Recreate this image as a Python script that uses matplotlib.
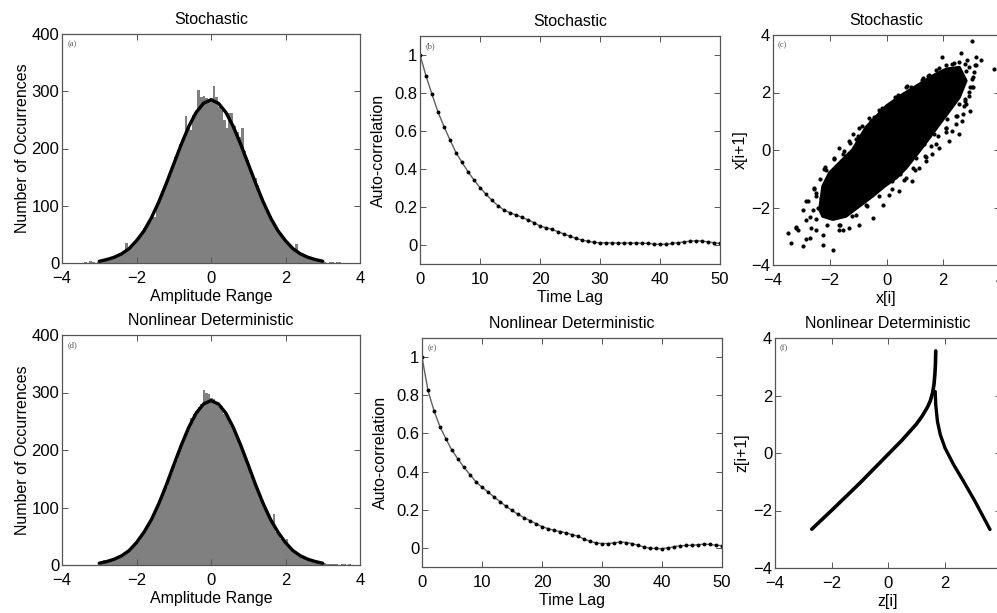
import matplotlib
matplotlib.use("Agg")
import matplotlib.pyplot as plt
import numpy as np

plt.rcParams['font.family'] = ['Liberation Sans', 'DejaVu Sans']

# ---------------- data ----------------
# (a) histogram, stochastic
hist_a_left = -3.40
hist_a_width = 0.069
hist_a_counts = [2, 0, 3, 1, 0, 2, 4, 3, 6, 5,
                 8, 10, 12, 14, 16, 20, 35, 27, 30, 36,
                 38, 47, 50, 61, 64, 76, 84, 80, 100, 110,
                 126, 136, 148, 155, 175, 185, 190, 208, 218, 256,
                 240, 232, 258, 264, 303, 290, 292, 288, 285, 288,
                 309, 290, 272, 268, 250, 235, 262, 262, 240, 228,
                 220, 235, 195, 180, 168, 152, 148, 136, 120, 108,
                 98, 92, 82, 72, 60, 58, 52, 44, 38, 34,
                 30, 26, 34, 18, 16, 14, 11, 9, 7, 5,
                 4, 3, 3, 2, 0, 1, 1, 0, 1, 1]
# (d) histogram, nonlinear deterministic
hist_d_left = -2.98
hist_d_width = 0.0673
hist_d_counts = [3, 8, 7, 6, 9, 8, 12, 12, 14, 18,
                 22, 26, 27, 33, 38, 42, 52, 55, 62, 72,
                 80, 86, 98, 105, 120, 130, 136, 152, 160, 175,
                 182, 198, 210, 216, 232, 236, 255, 262, 268, 275,
                 280, 305, 300, 298, 290, 288, 282, 275, 276, 262,
                 262, 250, 242, 238, 228, 210, 205, 190, 182, 172,
                 155, 148, 138, 126, 114, 100, 96, 86, 74, 89,
                 58, 56, 45, 40, 46, 30, 27, 22, 20, 17,
                 14, 12, 9, 8, 7, 5, 5, 4, 3, 3,
                 2, 2, 1, 2, 1, 0, 2, 1, 0, 2]
# fitted curves over the histograms
fit_x = [-3.0, -2.8, -2.6, -2.4, -2.2, -2.0, -1.8, -1.6, -1.4, -1.2, -1.0,
         -0.8, -0.6, -0.4, -0.2, 0.0, 0.2, 0.4, 0.6, 0.8, 1.0,
         1.2, 1.4, 1.6, 1.8, 2.0, 2.2, 2.4, 2.6, 2.8, 3.0]
fit_a_y = [3, 6, 10, 16, 25, 39, 56, 79, 107, 139, 173,
           207, 238, 263, 279, 285, 279, 263, 238, 207, 173,
           139, 107, 79, 56, 39, 25, 16, 10, 6, 3]
fit_d_y = [3, 6, 10, 16, 25, 39, 57, 79, 107, 139, 174,
           208, 239, 264, 280, 286, 280, 264, 239, 208, 174,
           139, 107, 79, 57, 39, 25, 16, 10, 6, 3]

# (b), (e) autocorrelation
lags = list(range(51))
acf_b = [1.0, 0.89, 0.793, 0.70, 0.623, 0.553, 0.486, 0.435, 0.386, 0.342, 0.302,
         0.267, 0.235, 0.207, 0.184, 0.170, 0.158, 0.146, 0.132, 0.118, 0.100,
         0.091, 0.082, 0.070, 0.058, 0.046, 0.035, 0.026, 0.019, 0.014, 0.012,
         0.011, 0.011, 0.010, 0.010, 0.010, 0.010, 0.010, 0.008, 0.005, 0.003,
         0.004, 0.008, 0.012, 0.016, 0.020, 0.022, 0.021, 0.016, 0.012, 0.008]
acf_e = [1.0, 0.825, 0.719, 0.635, 0.571, 0.511, 0.466, 0.422, 0.384, 0.346, 0.318,
         0.293, 0.267, 0.243, 0.218, 0.197, 0.176, 0.159, 0.143, 0.127, 0.112,
         0.101, 0.092, 0.086, 0.079, 0.070, 0.061, 0.047, 0.035, 0.026, 0.023,
         0.023, 0.026, 0.031, 0.028, 0.023, 0.014, 0.005, -0.002, -0.003, -0.004,
         0.000, 0.006, 0.011, 0.013, 0.014, 0.016, 0.020, 0.018, 0.014, 0.012]

# (c) return map, stochastic: dense core outline + scattered points
core_c_x = [-2.36, -2.25, -2.01, -1.66, -1.19, -0.72, 0.0, 0.59, 1.17, 1.64, 2.11,
            2.57, 2.81, 2.57, 2.22, 1.87, 1.52, 1.17, 0.70, 0.35, -0.05, -0.49,
            -0.96, -1.43, -1.89, -2.25]
core_c_y = [-2.07, -1.26, -0.79, -0.44, 0.02, 0.80, 1.54, 1.95, 2.30, 2.59, 2.82,
            2.88, 2.41, 1.83, 1.36, 0.90, 0.43, -0.03, -0.62, -0.97, -1.25, -1.61,
            -1.96, -2.31, -2.42, -2.31]
pts_c_x = [3.02, 3.78, 2.61, 3.16, 3.34, 1.96, 2.37, 2.90, 3.02, 2.78, 2.73, 2.49,
           2.08, 3.02, 1.50, 0.74, 0.39, -0.26, -0.61, -0.96, -1.31, -1.66, -1.84,
           -2.13, -2.54, -2.48, -2.83, -2.95, -3.18, -3.47, -3.36, -2.95, -2.25,
           -1.89, -2.83, -2.65, -1.54, -1.31, -0.96, -0.49, -0.14, 0.44, 0.91,
           1.15, 1.38, 1.85, 2.20, 2.55, 2.67, 2.96, 2.32, 1.61, 0.68, 0.09, -0.73,
           -1.08, -1.66, -2.25, -3.12, -2.71, -2.42, -2.30, -2.19, -2.01, -1.54,
           -1.19, -1.08, -0.49, 0.04, 0.21, 1.03, 1.26, 1.73, 2.08, 2.55, 2.84,
           3.13, 3.08, 2.90, 2.55, 2.14, 1.67, 1.32, 1.03, 0.56, 0.21, -0.37,
           -0.90, -1.31,
           -3.18, -2.83, -2.60, -2.77, -2.54, -2.19, -1.66, -2.71, -2.48,
           1.46, 0.70, 0.41, 0.12, -0.23, -0.53, 3.04, 2.81, 2.69, 2.11, 1.81,
           1.58, 1.34, 0.94, 0.47, 2.81, 3.04, 3.16, 2.34, 2.46, 2.92,
           -2.50, -2.35, -2.15, -1.85, -1.50, -1.30, -1.00, -0.85, -0.45, -0.15,
           0.30, 0.85, 1.30, 1.85, 2.30, 2.75, 2.95, 2.75, 2.45, 2.10, 1.75, 1.40,
           1.00, 0.60, 0.20, -0.25, -0.70, -1.20, -1.65, -2.10, -2.50]
pts_c_y = [3.80, 2.83, 3.38, 3.22, 3.12, 3.22, 3.01, 2.89, 2.19, 1.78, 1.54, 1.19,
           0.78, 2.48, 2.60, 2.21, 1.92, 1.39, 1.13, 0.78, 0.32, 0.08, -0.27,
           -0.68, -1.32, -1.50, -1.79, -2.08, -2.67, -2.90, -3.25, -3.33, -3.31,
           -3.49, -3.08, -2.73, -2.78, -2.70, -2.61, -2.35, -1.91, -1.44, -1.09,
           -0.62, -0.39, 0.08, 0.32, 0.55, 1.02, 1.37, 0.67, -0.15, -0.97, -1.56,
           -1.91, -2.26, -2.61, -2.96, -2.78, -2.32, -2.02, -1.67, -1.32, -0.97,
           -0.15, 0.55, 0.37, 0.90, 1.31, 1.54, 2.13, 2.42, 2.77, 2.95, 3.06,
           3.12, 2.95, 2.71, 2.01, 1.60, 1.08, 0.55, 0.20, -0.27, -0.62, -1.09,
           -1.44, -1.79, -2.02,
           -2.71, -2.42, -2.07, -1.78, -1.37, -0.67, -2.77, -3.06, -2.77,
           2.59, 2.18, 1.89, 1.60, 1.31, 1.01, 2.18, 1.60, 1.25, 0.61, 0.49,
           0.14, -0.21, -0.62, -0.85, 2.76, 2.53, 2.94, 2.76, 0.90, 1.89,
           -1.60, -1.00, -0.60, -0.30, -0.05, 0.25, 0.50, 0.85, 1.15, 1.45,
           1.85, 2.20, 2.50, 2.85, 3.00, 3.00, 2.20, 1.70, 1.20, 0.75, 0.20, -0.25,
           -0.70, -1.05, -1.35, -1.60, -1.95, -2.30, -2.60, -2.60, -2.40]

# (f) return map, nonlinear deterministic: two branches
left_f_x = [-2.70, -2.0, -1.0, 0.0, 0.5, 1.0, 1.2, 1.4, 1.5, 1.58, 1.63, 1.66, 1.68, 1.69]
left_f_y = [-2.65, -2.0, -1.05, -0.05, 0.45, 1.0, 1.27, 1.60, 1.82, 2.10, 2.40, 2.75, 3.10, 3.55]
right_f_x = [1.67, 1.69, 1.75, 1.85, 2.02, 2.32, 2.67, 3.08, 3.61]
right_f_y = [2.14, 1.68, 1.10, 0.64, 0.17, -0.40, -0.98, -1.68, -2.66]

titles = ["Stochastic", "Stochastic", "Stochastic",
          "Nonlinear Deterministic", "Nonlinear Deterministic", "Nonlinear Deterministic"]
panel_tags = ["(a)", "(b)", "(c)", "(d)", "(e)", "(f)"]
xlabels = ["Amplitude Range", "Time Lag", "x[i]", "Amplitude Range", "Time Lag", "z[i]"]
ylabels = ["Number of Occurrences", "Auto-correlation", "x[i+1]",
           "Number of Occurrences", "Auto-correlation", "z[i+1]"]

# ---------------- figure ----------------
W, H = 997, 613
fig = plt.figure(figsize=(W / 100, H / 100), dpi=100)


def px_axes(l, r, t, b):
    return fig.add_axes([l / W, (H - b) / H, (r - l) / W, (b - t) / H])


axes = [px_axes(62, 360, 34, 263), px_axes(420, 720, 36, 264), px_axes(773, 1000, 35, 265),
        px_axes(62, 360, 335, 565), px_axes(422, 722, 338, 567), px_axes(775, 1001, 338, 568)]
ylab_x = [-0.134, -0.139, -0.145, -0.134, -0.14, -0.147]

spine_col = '#555555'
for i, ax in enumerate(axes):
    for s in ax.spines.values():
        s.set_color(spine_col)
        s.set_linewidth(0.9)
    ax.tick_params(direction='in', top=True, right=True, length=4, width=0.7,
                   color=spine_col, labelsize=12)
    ax.tick_params(axis='x', pad=5.5)
    ax.tick_params(axis='y', pad=2)
    ax.set_title(titles[i], fontsize=11.5, pad=7)
    ax.set_xlabel(xlabels[i], fontsize=11.5, va='center')
    ax.xaxis.set_label_coords(0.5, -0.147)
    ax.set_ylabel(ylabels[i], fontsize=11.5, va='center')
    ax.yaxis.set_label_coords(ylab_x[i], 0.5)
    ax.text(0.02, 0.975, panel_tags[i], transform=ax.transAxes, ha='left', va='top',
            fontsize=6, family='Liberation Serif', color='#555555')

# histograms
for ax, left, width, counts, fy in [(axes[0], hist_a_left, hist_a_width, hist_a_counts, fit_a_y),
                                    (axes[3], hist_d_left, hist_d_width, hist_d_counts, fit_d_y)]:
    centers = left + width * (np.arange(len(counts)) + 0.5)
    ax.bar(centers, counts, width=width, color='#808080', edgecolor='none', linewidth=0)
    ax.plot(fit_x, fy, color='black', lw=2.4, solid_capstyle='round', solid_joinstyle='round')
    ax.set_xlim(-4, 4)
    ax.set_ylim(0, 400)
    ax.set_xticks([-4, -2, 0, 2, 4])
    ax.set_yticks([0, 100, 200, 300, 400])

# autocorrelations
for ax, acf in [(axes[1], acf_b), (axes[4], acf_e)]:
    ax.plot(lags, acf, color='#606060', lw=1.0, marker='o', ms=1.8,
            mfc='black', mec='black')
    ax.set_xlim(0, 50)
    ax.set_ylim(-0.1, 1.1)
    ax.set_xticks([0, 10, 20, 30, 40, 50])
    ax.set_yticks([0, 0.2, 0.4, 0.6, 0.8, 1.0])
    ax.set_yticklabels(['0', '0.2', '0.4', '0.6', '0.8', '1'])

# return map (c)
ax = axes[2]
ax.fill(core_c_x, core_c_y, color='black', lw=2.0, ec='black', joinstyle='round')
ax.plot(pts_c_x, pts_c_y, 'o', ms=3.0, color='black', mec='none')

# return map (f)
ax = axes[5]
ax.plot(left_f_x, left_f_y, color='black', lw=2.6, solid_capstyle='round', solid_joinstyle='round')
ax.plot(right_f_x, right_f_y, color='black', lw=2.4, solid_capstyle='round', solid_joinstyle='round')

for ax in (axes[2], axes[5]):
    ax.set_xlim(-4, 4)
    ax.set_ylim(-4, 4)
    ax.set_xticks([-4, -2, 0, 2, 4])
    ax.set_yticks([-4, -2, 0, 2, 4])

fig.savefig('out.png', dpi=100)
